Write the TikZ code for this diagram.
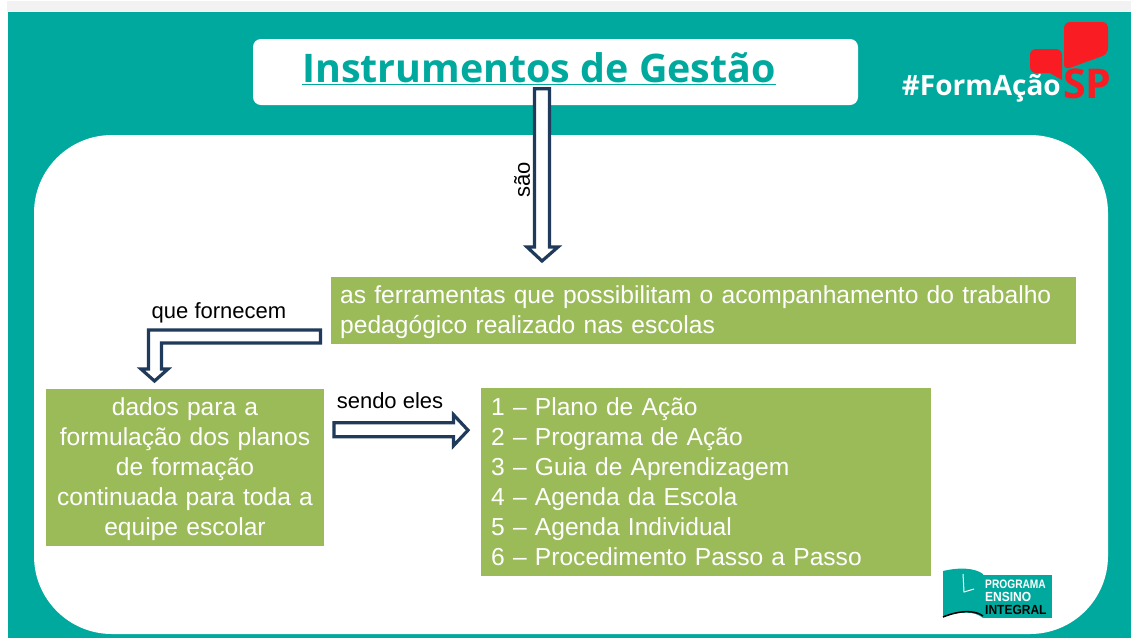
\documentclass[tikz,border=0pt]{standalone}
\usepackage{fontspec}
\usetikzlibrary{calc}
\setmainfont{Liberation Sans}
\newfontfamily\titlefont{Open Sans}
\definecolor{teal1}{HTML}{00A99D}
\definecolor{green1}{HTML}{9BBB59}
\definecolor{navy1}{HTML}{1F3A5A}
\definecolor{red1}{HTML}{F91C23}
\tikzset{
  greenbox/.style={fill=green1,draw=none,inner sep=0pt,anchor=north west},
  blockarrow/.style={draw=navy1,fill=white,line width=3.2pt,line join=miter},
  lbl/.style={font=\fontsize{22}{24}\selectfont,text=black,inner sep=0pt},
  body/.style={font=\fontsize{24.6}{29.9}\selectfont,text=white,inner sep=0pt},
}
\begin{document}
\begin{tikzpicture}[x=1pt,y=-1pt]
\useasboundingbox (0,0) rectangle (1131,638);
\fill[white] (0,0) rectangle (1131,638);
\fill[black!5] (7,1) rectangle (1131,12);
\fill[teal1] (8,12) rectangle (1131,638);
\fill[white,rounded corners=78pt] (34,135) rectangle (1108,634);
% title
\node[fill=white,rounded corners=8pt,minimum width=605pt,minimum height=66pt,inner sep=0pt] (title) at (555.5,72) {};
\node[inner sep=0pt,text=teal1,font=\titlefont\bfseries\fontsize{39.4}{44}\selectfont] (titletext) at (539,68.5) {\underline{Instrumentos de Gestão}};
% boxes
\node[greenbox,minimum width=745pt,minimum height=67pt] (ferr) at (331,277) {};
\node[body,anchor=west,text width=735pt,align=left] (ferrt) at (340,312) {as ferramentas que possibilitam o acompanhamento do trabalho\\pedagógico realizado nas escolas};
\node[greenbox,minimum width=278pt,minimum height=157pt] (dados) at (46,389) {};
\node[body,text width=278pt,align=center] (dadost) at (185,469) {dados para a\\formulação dos planos\\de formação\\continuada para toda a\\equipe escolar};
\node[greenbox,minimum width=450pt,minimum height=188pt] (lista) at (481,388) {};
\node[body,anchor=west,text width=430pt,align=left] (listat) at (491,481.5) {1 – Plano de Ação\\2 – Programa de Ação\\3 – Guia de Aprendizagem\\4 – Agenda da Escola\\5 – Agenda Individual\\6 – Procedimento Passo a Passo};
% connectors
\coordinate (a1s) at ($(title.south)+(-13.5,-16.5)$);
\coordinate (a1e) at ($(ferr.north west)+(211,-16)$);
\draw[blockarrow] ($(a1s)+(-7.5,0)$) -- ($(a1s)+(7.5,0)$) -- ($(a1e)+(7.5,-14)$) -- ($(a1e)+(16,-14)$) -- (a1e) -- ($(a1e)+(-15,-14)$) -- ($(a1e)+(-7.5,-14)$) -- cycle;
\coordinate (a2s) at ($(ferr.south west)+(-10.5,-8)$);
\coordinate (a2e) at ($(dados.north west)+(108.5,-8)$);
\draw[blockarrow] ($(a2s)+(0,-6.5)$) -| ($(a2e)+(-6,-12)$) -- ($(a2e)+(-13.5,-12)$) -- (a2e) -- ($(a2e)+(13.5,-12)$) -- ($(a2e)+(7,-12)$) |- ($(a2s)+(0,6.5)$) -- cycle;
\coordinate (a3s) at ($(dados.east)+(9.5,-38)$);
\coordinate (a3e) at ($(lista.west)+(-13,-52)$);
\draw[blockarrow] ($(a3s)+(0,-7)$) -- ($(a3e)+(-14.5,-7.5)$) -- ($(a3e)+(-14.5,-15.5)$) -- (a3e) -- ($(a3e)+(-14.5,15.5)$) -- ($(a3e)+(-14.5,6.5)$) -- ($(a3s)+(0,7)$) -- cycle;
% labels
\node[lbl] (sao) at (522,180) {\rotatebox{90}{são}};
\node[lbl] (forn) at (219,312.5) {que fornecem};
\node[lbl] (send) at (390,400.5) {sendo eles};
% logo FormAcao
\fill[red1,rounded corners=6pt] (1064,22) -- (1108,22) -- (1108,54) -- (1064,70) -- cycle;
\fill[red1] (1064,30) -- (1075,30) -- (1064,67) -- cycle;
\fill[red1,rounded corners=6pt] (1030,49) -- (1062,49) -- (1062,73) -- (1030,73) -- cycle;
\fill[red1] (1048,72) -- (1062,60) -- (1062,80) -- cycle;
\node[inner sep=0pt,text=white,font=\titlefont\bfseries\fontsize{28}{30}\selectfont,anchor=east] (hash) at (1061,88) {\#FormAção};
\node[inner sep=0pt,text=red1,font=\titlefont\bfseries\fontsize{41}{42}\selectfont,anchor=west] (sp) at (1063,84) {SP};
% logo Ensino Integral
\fill[teal1] (943,571) .. controls (960,567) and (975,568) .. (983,574) -- (983,618) .. controls (975,611) and (960,611) .. (943,617) -- cycle;
\fill[teal1] (983,575) rectangle (1052,618);
\draw[white,line width=1pt] (963,574) -- (964,592) -- (974,589);
\draw[black,line width=1.5pt] (943,617) .. controls (960,610) and (975,610) .. (983,616);
\node[inner sep=0pt,anchor=west,text=white,font=\bfseries\fontsize{10.2}{12}\selectfont] (pe1) at (985,584) {\scalebox{1}[1.2]{PROGRAMA}};
\node[inner sep=0pt,anchor=west,text=white,font=\bfseries\fontsize{12}{12}\selectfont] (pe2) at (985,597) {\scalebox{1}[1.1]{ENSINO}};
\node[inner sep=0pt,anchor=west,text=black,font=\bfseries\fontsize{12}{12}\selectfont] (pe3) at (985,610) {\scalebox{1}[1.1]{INTEGRAL}};
\end{tikzpicture}
\end{document}
